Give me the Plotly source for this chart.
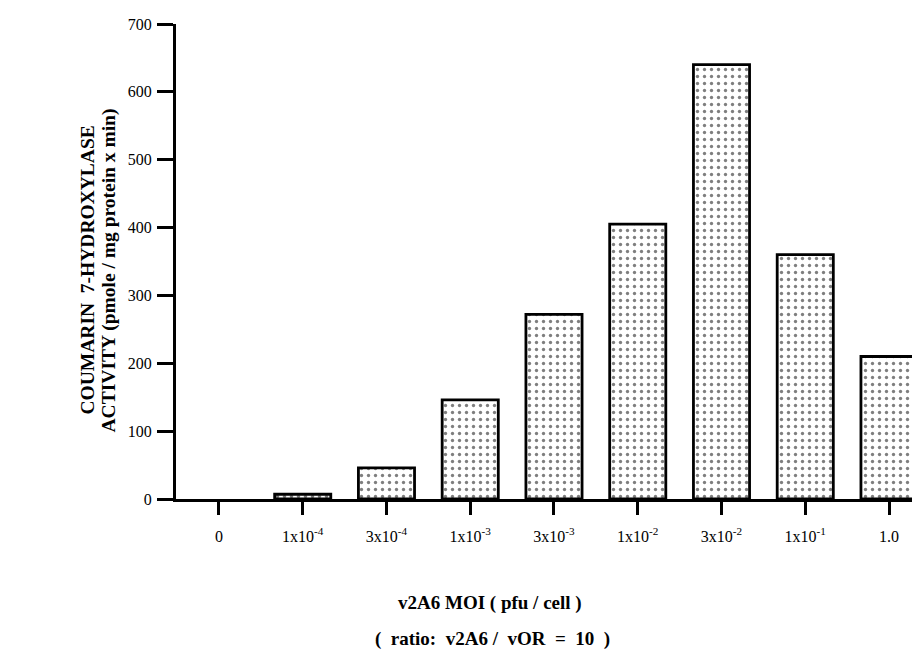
import plotly.graph_objects as go

categories = ["0", "1x10<sup>-4</sup>", "3x10<sup>-4</sup>", "1x10<sup>-3</sup>", "3x10<sup>-3</sup>",
              "1x10<sup>-2</sup>", "3x10<sup>-2</sup>", "1x10<sup>-1</sup>", "1.0"]
activity = [0, 7, 46, 146, 272, 405, 640, 360, 210]
y_ticks = [0, 100, 200, 300, 400, 500, 600, 700]

SERIF = "Liberation Serif"

fig = go.Figure()
fig.add_trace(go.Bar(
    x=list(range(len(categories))),
    y=activity,
    width=0.67,
    marker=dict(
        color="white",
        line=dict(color="black", width=[0 if v == 0 else 2.8 for v in activity]),
        pattern=dict(shape=".", fgcolor="black", bgcolor="white", size=7, solidity=0.18),
    ),
    showlegend=False,
))

fig.update_layout(
    width=920, height=664,
    margin=dict(l=168, r=8, t=11.5, b=173),
    paper_bgcolor="white", plot_bgcolor="white",
    font=dict(family=SERIF, color="black", size=16),
)
fig.update_xaxes(
    tickmode="array",
    tickvals=list(range(len(categories))),
    ticktext=categories,
    range=[-0.513, 8.37],
    showline=True, linecolor="black", linewidth=3,
    ticks="outside", ticklen=13, tickwidth=2.5, tickcolor="black",
    ticklabelstandoff=8,
    showgrid=False, zeroline=False,
    tickfont=dict(family=SERIF, size=16),
)
fig.update_yaxes(
    range=[0, 700],
    tickmode="array", tickvals=y_ticks,
    showline=True, linecolor="black", linewidth=3,
    ticks="outside", ticklen=16, tickwidth=2.5, tickcolor="black",
    ticklabelstandoff=2,
    showgrid=False, zeroline=False,
    tickfont=dict(family=SERIF, size=16),
)

fig.add_annotation(
    xref="paper", yref="paper", x=-0.119, y=0.482,
    text="<b>COUMARIN  7-HYDROXYLASE</b>",
    textangle=-90, showarrow=False, xanchor="center", yanchor="middle",
    font=dict(family=SERIF, size=19.5, color="black"),
)
fig.add_annotation(
    xref="paper", yref="paper", x=-0.0895, y=0.482,
    text="<b>ACTIVITY (pmole / mg protein x min)</b>",
    textangle=-90, showarrow=False, xanchor="center", yanchor="middle",
    font=dict(family=SERIF, size=19.5, color="black"),
)
fig.add_annotation(
    xref="paper", yref="paper", x=0.422, y=-0.219,
    text="<b>v2A6 MOI ( pfu / cell )</b>",
    showarrow=False, xanchor="center", yanchor="middle",
    font=dict(family=SERIF, size=19, color="black"),
)
fig.add_annotation(
    xref="paper", yref="paper", x=0.426, y=-0.294,
    text="<b>(  ratio:  v2A6 /  vOR  =  10  )</b>",
    showarrow=False, xanchor="center", yanchor="middle",
    font=dict(family=SERIF, size=19, color="black"),
)

fig.write_html("out.html")
